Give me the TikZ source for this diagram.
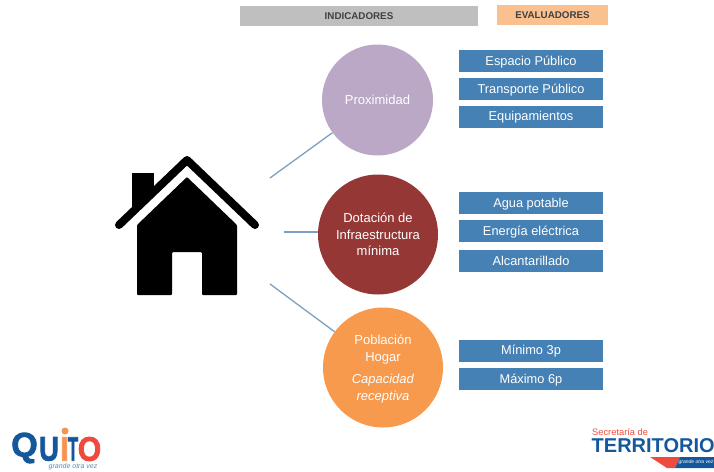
\documentclass[tikz,border=0pt]{standalone}
\usepackage{fontspec}
\usepackage{graphicx}
\setmainfont{Liberation Sans}
\newfontfamily\logofont[FakeBold=2.5]{Liberation Sans Bold}
\definecolor{boxblue}{HTML}{4581B5}
\definecolor{linkblue}{HTML}{7BA0C4}
\definecolor{headgray}{HTML}{BFBFBF}
\definecolor{headorange}{HTML}{FBC08F}
\definecolor{cprox}{HTML}{BAA8C6}
\definecolor{cdot}{HTML}{953735}
\definecolor{cpob}{HTML}{F79A4D}
\definecolor{logoblue}{HTML}{14589C}
\definecolor{logored}{HTML}{EE4B3E}
\definecolor{logoorange}{HTML}{F8934F}
\tikzset{
  evalbox/.style={rectangle,fill=boxblue,text=white,minimum width=144pt,minimum height=22pt,inner sep=0pt,text height=11pt,text depth=2.6pt,font=\fontsize{12.8}{15}\selectfont},
  headbox/.style={rectangle,minimum height=20pt,inner sep=0pt,text=black!75,font=\bfseries\fontsize{9.8}{11}\selectfont},
  bubble/.style={circle,inner sep=0pt,text=white,align=center,font=\fontsize{13}{16.5}\selectfont},
  link/.style={draw=linkblue,line width=1.3pt},
  logoletter/.style={inner sep=0pt,font=\logofont\fontsize{34}{34}\selectfont},
}
\begin{document}
\begin{tikzpicture}[x=1pt,y=-1pt]
\useasboundingbox (0,0) rectangle (714,471);
% headers
\node[headbox,fill=headgray,minimum width=238pt] (hind) at (359,16) {INDICADORES};
\node[headbox,fill=headorange,minimum width=111pt] (heval) at (552.5,15) {EVALUADORES};
% circles
\node[bubble,fill=cprox,minimum size=111pt] (prox) at (377.5,100) {Proximidad};
\node[bubble,fill=cdot,minimum size=120pt] (dot) at (378,234.5) {Dotación de\\Infraestructura\\mínima};
\node[bubble,fill=cpob,minimum size=120pt,text depth=0pt] (pob) at (383,367.5) {Población\\Hogar\\[6pt]\textit{Capacidad}\\\textit{receptiva}};
% boxes
\node[evalbox] (e1) at (531,61) {Espacio Público};
\node[evalbox] (e2) at (531,89) {Transporte Público};
\node[evalbox] (e3) at (531,116.5) {Equipamientos};
\node[evalbox] (e4) at (531,203) {Agua potable};
\node[evalbox] (e5) at (531,231) {Energía eléctrica};
\node[evalbox] (e6) at (531,261) {Alcantarillado};
\node[evalbox] (e7) at (531,350.5) {Mínimo 3p};
\node[evalbox] (e8) at (531,379) {Máximo 6p};
% connectors
\coordinate (l1) at (270,178);
\coordinate (l2) at (284,232);
\coordinate (l3) at (270,284);
\draw[link] (l1) -- (prox);
\draw[link] (l2) -- (l2 -| dot.west);
\draw[link] (l3) -- (pob);
% house
\fill[black] (132,173) rectangle (154,212);
\fill[white] (154,196) -- (187,163) -- (240,216) -- (132,216) -- (132,212) -- cycle;
\draw[black,line width=8pt,line cap=round,line join=round] (119,225) -- (187,160) -- (255,225);
\fill[black,rounded corners=1pt] (137,225) -- (187,177) -- (237,225) -- (237,295) -- (202,295) -- (202,252) -- (172,252) -- (172,295) -- (137,295) -- cycle;
% logo left
\node[logoletter,text=logoblue] (qq) at (24.5,448) {Q};
\node[logoletter,text=logoblue] (qu) at (49,449) {\scalebox{0.8}[1]{U}};
\node[logoletter,text=logoorange] (qi) at (64.5,449) {\scalebox{0.9}[1]{I}};
\node[logoletter,text=logoblue] (qt) at (73,449) {\scalebox{0.5}[1]{T}};
\node[logoletter,text=logored] (qo) at (89.5,449) {\scalebox{0.88}[1]{O}};
\fill[logoorange] (65,431) circle (3.5pt);
\node[inner sep=0pt,font=\itshape\fontsize{7}{7}\selectfont,text=logoblue!70] (qs) at (73,467) {grande otra vez};
% logo right
\node[anchor=west,inner sep=0pt,font=\fontsize{9.3}{10}\selectfont,text=logored] (sec) at (592,432) {Secretaría de};
\node[anchor=west,inner sep=0pt,font=\bfseries\fontsize{20}{20}\selectfont,text=logoblue] (ter) at (591.5,446) {TERRITORIO};
\fill[logored] (650,457) -- (680,457) -- (675,468) -- (667,468) -- cycle;
\fill[logoblue] (680,457) -- (714,457) -- (714,468) -- (675,468) -- cycle;
\node[inner sep=0pt,font=\itshape\fontsize{5}{6}\selectfont,text=white] (ts) at (696,462.5) {grande otra vez};
\end{tikzpicture}
\end{document}
